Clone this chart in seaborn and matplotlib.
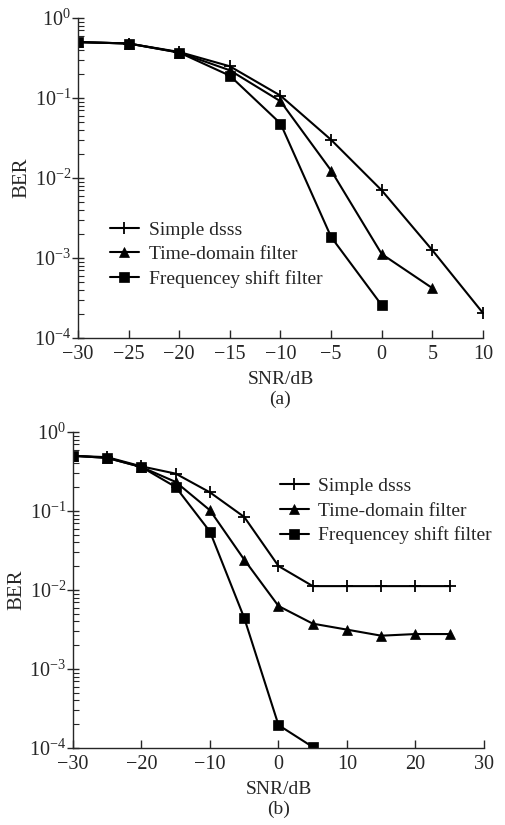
import numpy as np
import pandas as pd
import seaborn as sns
import matplotlib.pyplot as plt
from matplotlib.ticker import LogLocator, NullFormatter

# ---- data ----
labels = ["Simple dsss", "Time-domain filter", "Frequencey shift filter"]

# panel (a)
snr_a_dsss = [-30, -25, -20, -15, -10, -5, 0, 5, 10]
ber_a_dsss = [0.5, 0.48, 0.376, 0.249, 0.107, 0.030, 0.0070, 0.00125, 0.000205]
snr_a_time = [-30, -25, -20, -15, -10, -5, 0, 5]
ber_a_time = [0.5, 0.48, 0.37, 0.222, 0.091, 0.0124, 0.00112, 0.00042]
snr_a_freq = [-30, -25, -20, -15, -10, -5, 0]
ber_a_freq = [0.5, 0.48, 0.37, 0.19, 0.048, 0.00183, 0.000257]

# panel (b)
snr_b_dsss = [-30, -25, -20, -15, -10, -5, 0, 5, 10, 15, 20, 25]
ber_b_dsss = [0.5, 0.48, 0.367, 0.297, 0.172, 0.084, 0.0201, 0.0112, 0.0112, 0.0112, 0.0112, 0.0112]
snr_b_time = [-30, -25, -20, -15, -10, -5, 0, 5, 10, 15, 20, 25]
ber_b_time = [0.5, 0.47, 0.36, 0.233, 0.102, 0.0242, 0.00627, 0.00375, 0.00315, 0.00264, 0.00277, 0.00277]
snr_b_freq = [-30, -25, -20, -15, -10, -5, 0, 5]
ber_b_freq = [0.5, 0.47, 0.36, 0.201, 0.0547, 0.00442, 0.000195, 0.000103]

markers = ["+", "^", "s"]
msizes = [9, 7, 7]

sns.set_style("ticks")
plt.rcParams["font.family"] = ["Liberation Serif", "DejaVu Serif"]
plt.rcParams["mathtext.fontset"] = "custom"
plt.rcParams["mathtext.rm"] = "Liberation Serif"
plt.rcParams["mathtext.it"] = "Liberation Serif"
plt.rcParams["font.size"] = 12.5

fig = plt.figure(figsize=(5.06, 8.25), dpi=100)
ax_a = fig.add_axes([78 / 506, 1 - 338 / 825, 405 / 506, 320 / 825])
ax_b = fig.add_axes([73 / 506, 1 - 748 / 825, 411 / 506, 316 / 825])


def draw(ax, series):
    for (x, y), lab, m, ms in zip(series, labels, markers, msizes):
        sns.lineplot(x=x, y=y, ax=ax, color="black", lw=1.5, marker=m,
                     markersize=ms, markeredgewidth=1.3 if m == "+" else 0.5,
                     markeredgecolor="black", label=lab)
    ax.set_yscale("log")
    ax.set_ylim(1e-4, 1)
    ax.yaxis.set_minor_locator(LogLocator(base=10, subs=np.arange(2, 10), numticks=10))
    ax.yaxis.set_minor_formatter(NullFormatter())
    ax.set_yticks([1e-4, 1e-3, 1e-2, 1e-1, 1])
    ax.set_yticklabels([r"$10^{-4}$", r"$10^{-3}$", r"$10^{-2}$", r"$10^{-1}$", r"$10^{0}$"])
    ax.tick_params(axis="y", which="major", direction="inout", length=8, width=1)
    ax.tick_params(axis="y", which="minor", direction="in", length=4, width=0.8)
    ax.tick_params(axis="x", which="major", direction="in", length=6, width=1, pad=5)
    ax.tick_params(axis="y", labelsize=14.5, pad=1)
    ax.tick_params(axis="x", labelsize=14.5)
    for s in ["top", "right"]:
        ax.spines[s].set_visible(False)
    for s in ["left", "bottom"]:
        ax.spines[s].set_linewidth(1.0)
    ax.set_ylabel("BER", fontsize=15, labelpad=2)


draw(ax_a, [(snr_a_dsss, ber_a_dsss), (snr_a_time, ber_a_time), (snr_a_freq, ber_a_freq)])
ax_a.set_xlim(-30, 10)
ax_a.set_xticks(np.arange(-30, 11, 5))
ax_a.set_xticklabels(["\u221230", "\u221225", "\u221220", "\u221215", "\u221210", "\u22125", "0", "5", "10"])
ax_a.set_xlabel("SNR/dB\n(a)", fontsize=14, linespacing=1.2, labelpad=5)
ax_a.legend(loc="upper left", bbox_to_anchor=(0.035, 0.42), frameon=False,
            handlelength=1.5, handletextpad=0.5, labelspacing=0.35, fontsize=14)

draw(ax_b, [(snr_b_dsss, ber_b_dsss), (snr_b_time, ber_b_time), (snr_b_freq, ber_b_freq)])
ax_b.set_xlim(-30, 30)
ax_b.set_xticks(np.arange(-30, 31, 10))
ax_b.set_xticklabels(["\u221230", "\u221220", "\u221210", "0", "10", "20", "30"])
ax_b.set_xlabel("SNR/dB\n(b)", fontsize=14, linespacing=1.2, labelpad=5)
ax_b.legend(loc="upper left", bbox_to_anchor=(0.46, 0.911), frameon=False,
            handlelength=1.5, handletextpad=0.5, labelspacing=0.35, fontsize=14)

fig.savefig("out.png", dpi=100)
